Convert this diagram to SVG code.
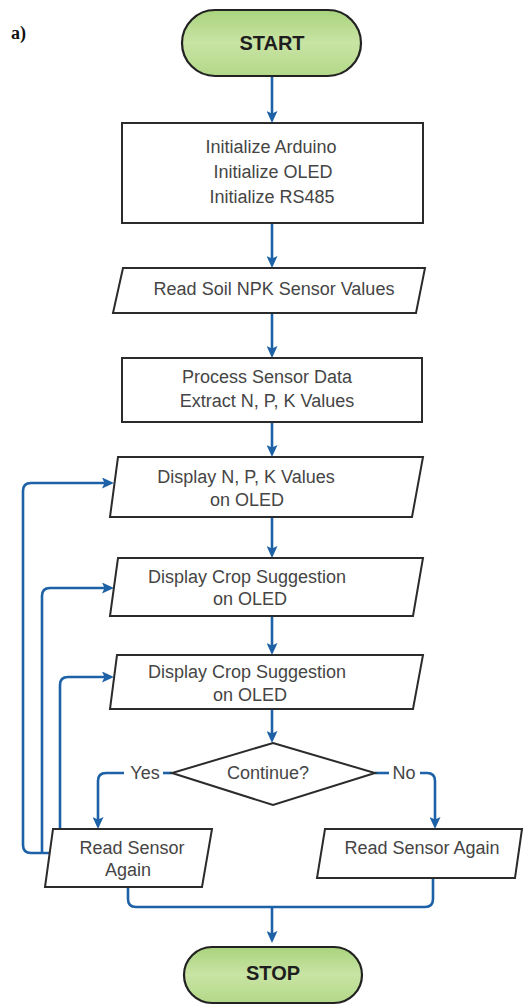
<svg xmlns="http://www.w3.org/2000/svg" width="532" height="1005" viewBox="0 0 532 1005">
<defs>
<linearGradient id="g" x1="0" y1="0" x2="0" y2="1">
<stop offset="0" stop-color="#a9d37e"/>
<stop offset="0.5" stop-color="#c9e4a4"/>
<stop offset="1" stop-color="#b2d888"/>
</linearGradient>
<marker id="ah" markerUnits="userSpaceOnUse" markerWidth="12" markerHeight="11" viewBox="0 0 12 11" refX="6" refY="5.5" orient="auto">
<path d="M0,0 L12,5.5 L0,11 L2.5,5.5 z" fill="#1d62a6"/>
</marker>
<style>
.sh{fill:#fff;stroke:#2b2b2b;stroke-width:2}
.term{fill:url(#g);stroke:#222;stroke-width:2.2}
.t{font-family:"Liberation Sans",Arial,sans-serif;font-size:18px;fill:#454545;text-anchor:middle}
.tb{font-family:"Liberation Sans",Arial,sans-serif;font-size:20px;font-weight:bold;fill:#1e1e1e;text-anchor:middle}
.c{fill:none;stroke:#1d62a6;stroke-width:2.6}
.ca{fill:none;stroke:#1d62a6;stroke-width:2.6;marker-end:url(#ah)}
</style>
</defs>
<rect width="532" height="1005" fill="#fff"/>
<text x="11" y="39" font-family="Liberation Serif,serif" font-weight="bold" font-size="18" fill="#111">a)</text>

<g id="connectors">
<path class="ca" d="M272 77 V117"/>
<path class="ca" d="M272 223 V262"/>
<path class="ca" d="M272 313 V352"/>
<path class="ca" d="M272 422 V451"/>
<path class="ca" d="M272 517 V552"/>
<path class="ca" d="M272 616 V649"/>
<path class="ca" d="M272 709 V737"/>
<path class="c" d="M172 773 H163"/>
<path class="ca" d="M124 773 H106 Q98 773 98 781 V823"/>
<path class="c" d="M375 773 H389"/>
<path class="ca" d="M420 773 H427 Q435 773 435 781 V823"/>
<path class="ca" d="M50 853 H31 Q23 853 23 845 V491 Q23 483 31 483 H108"/>
<path class="ca" d="M42 853 V596 Q42 588 50 588 H108"/>
<path class="ca" d="M60 829 V685 Q60 677 68 677 H108"/>
<path class="c" d="M128 887 V899 Q128 907 136 907 H425 Q433 907 433 899 V878"/>
<path class="ca" d="M272 907 V937"/>
</g>

<g id="start">
<rect class="term" x="182" y="10" width="179" height="66" rx="33"/>
<text class="tb" x="272" y="50">START</text>
</g>
<g id="init">
<rect class="sh" x="122" y="123" width="301" height="100"/>
<text class="t" x="271" y="153">Initialize Arduino</text>
<text class="t" x="273" y="178">Initialize OLED</text>
<text class="t" x="272" y="203">Initialize RS485</text>
</g>
<g id="read-soil">
<polygon class="sh" points="123,268 425,268 416,313 113,313"/>
<text class="t" x="274" y="295">Read Soil NPK Sensor Values</text>
</g>
<g id="process">
<rect class="sh" x="122" y="358" width="300" height="64"/>
<text class="t" x="267" y="383">Process Sensor Data</text>
<text class="t" x="267" y="407">Extract N, P, K Values</text>
</g>
<g id="display-npk">
<polygon class="sh" points="118,457 423,457 412,517 110,517"/>
<text class="t" x="246" y="483">Display N, P, K Values</text>
<text class="t" x="247" y="506">on OLED</text>
</g>
<g id="display-crop-1">
<polygon class="sh" points="118,558 423,558 413,616 110,616"/>
<text class="t" x="247" y="583">Display Crop Suggestion</text>
<text class="t" x="250" y="605">on OLED</text>
</g>
<g id="display-crop-2">
<polygon class="sh" points="117,655 423,655 413,709 110,709"/>
<text class="t" x="247" y="678">Display Crop Suggestion</text>
<text class="t" x="250" y="701">on OLED</text>
</g>
<g id="decision">
<polygon class="sh" points="273,743 375,773 273,805 172,773"/>
<text class="t" x="268" y="779">Continue?</text>
<text class="t" x="145" y="779">Yes</text>
<text class="t" x="404" y="779">No</text>
</g>
<g id="read-again-left">
<polygon class="sh" points="53,829 212,829 202,887 45,887"/>
<text class="t" x="132" y="854">Read Sensor</text>
<text class="t" x="128" y="876">Again</text>
</g>
<g id="read-again-right">
<polygon class="sh" points="325,829 522,829 515,878 317,878"/>
<text class="t" x="422" y="854">Read Sensor Again</text>
</g>
<g id="stop">
<rect class="term" x="184" y="947" width="178" height="56" rx="28"/>
<text class="tb" x="273" y="980">STOP</text>
</g>
</svg>
